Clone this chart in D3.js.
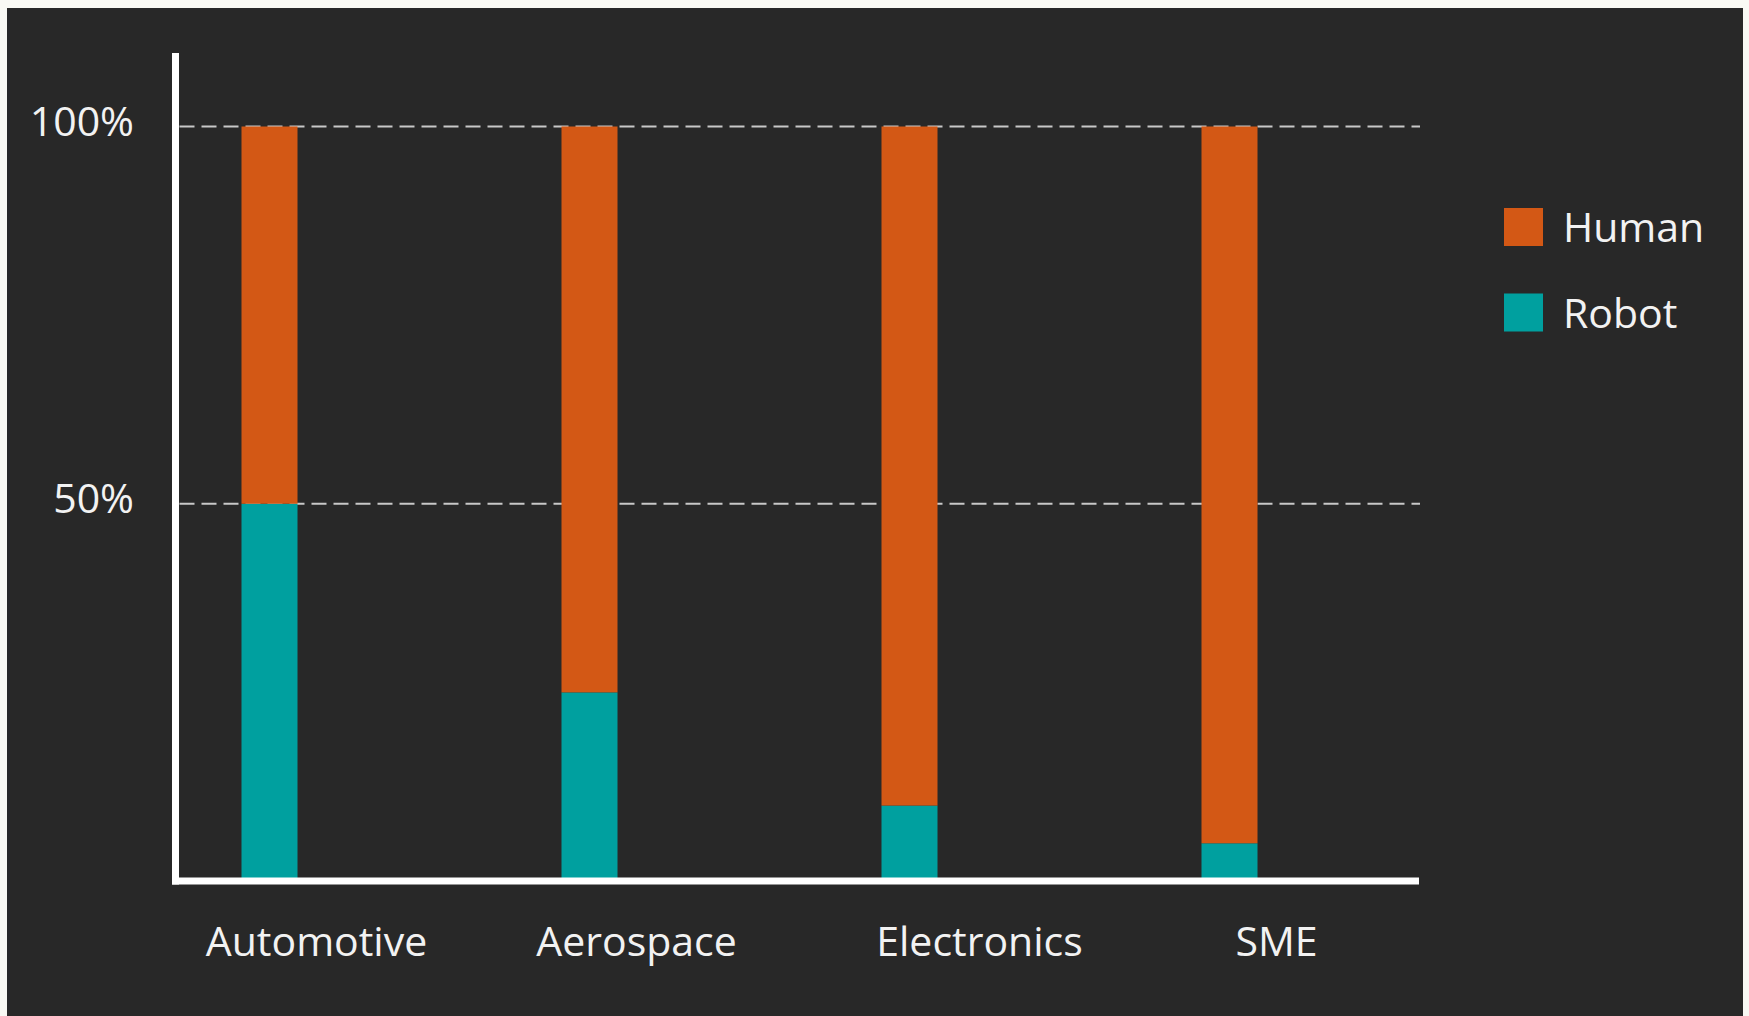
<!DOCTYPE html>
<html>
<head>
<meta charset="utf-8">
<script src="https://cdn.jsdelivr.net/npm/d3@7"></script>
<style>
  html, body { margin: 0; padding: 0; background: #f9f9f4; }
  svg { display: block; }
  text { font-family: "Open Sans", "Noto Sans", sans-serif; fill: #f2f2f2; }
</style>
</head>
<body>
<div class="chart"></div>
<script>
// data (percent of workforce)
const categories = ['Automotive', 'Aerospace', 'Electronics', 'SME'];
const robotShare = [50, 25, 10, 5];
const humanShare = [50, 75, 90, 95];
const seriesNames = ['Human', 'Robot'];
const yTicks = [50, 100];

const width = 1749;
const height = 1016;

const colors = { Human: '#d35815', Robot: '#00a09f' };

// the original labels are placed by hand, a bit right of each bar
const labelShift = { Automotive: 47, Aerospace: 47, Electronics: 70, SME: 47 };

const svg = d3.select('.chart').append('svg')
    .attr('width', width)
    .attr('height', height);

// outer page + dark panel
svg.append('rect').attr('width', width).attr('height', height).attr('fill', '#f9f9f4');
svg.append('rect')
    .attr('x', 7).attr('y', 8)
    .attr('width', 1736).attr('height', height - 8)
    .attr('fill', '#282828');

const x = d3.scaleBand()
    .domain(categories)
    .range([109.5, 1389.5])
    .paddingInner(0.825)
    .paddingOuter(0.4125);

const y = d3.scaleLinear()
    .domain([0, 100])
    .range([881, 126.5]);

const axisX = 175.5;
const axisRight = 1420;

// dashed gridlines
svg.append('g')
    .selectAll('line')
    .data(yTicks)
    .join('line')
    .attr('x1', axisX + 4)
    .attr('x2', axisRight)
    .attr('y1', d => y(d))
    .attr('y2', d => y(d))
    .attr('stroke', '#c8c8c8')
    .attr('stroke-width', 2.2)
    .attr('stroke-dasharray', '15 7');

// stacked bars
const rows = categories.map((c, i) => ({ category: c, Robot: robotShare[i], Human: humanShare[i] }));
const stacked = d3.stack().keys(['Robot', 'Human'])(rows);

svg.append('g')
    .selectAll('g')
    .data(stacked)
    .join('g')
    .attr('fill', d => colors[d.key])
    .selectAll('rect')
    .data(d => d)
    .join('rect')
    .attr('x', d => x(d.data.category))
    .attr('width', x.bandwidth())
    .attr('y', d => y(d[1]))
    .attr('height', d => y(d[0]) - y(d[1]));

// y tick labels
const yAxis = svg.append('g')
    .attr('transform', 'translate(134,0)')
    .call(d3.axisLeft(y).tickValues(yTicks).tickSize(0).tickPadding(0).tickFormat(d => d + '%'));
yAxis.select('.domain').remove();
yAxis.selectAll('text')
    .attr('font-family', '"Open Sans", "Noto Sans", sans-serif')
    .attr('font-size', 41)
    .attr('fill', '#f2f2f2')
    .attr('dy', 9)
    .attr('text-anchor', 'end');

// axis lines
svg.append('line')
    .attr('x1', axisX).attr('x2', axisX)
    .attr('y1', 53).attr('y2', 884.5)
    .attr('stroke', '#ffffff').attr('stroke-width', 7);
svg.append('line')
    .attr('x1', axisX - 3.5).attr('x2', axisRight - 1)
    .attr('y1', 881).attr('y2', 881)
    .attr('stroke', '#ffffff').attr('stroke-width', 7);

// category labels
svg.append('g')
    .selectAll('text')
    .data(categories)
    .join('text')
    .attr('x', d => x(d) + x.bandwidth() / 2 + labelShift[d])
    .attr('y', 956)
    .attr('text-anchor', 'middle')
    .attr('font-size', 41)
    .text(d => d);

// legend
const legend = svg.append('g')
    .selectAll('g')
    .data(seriesNames)
    .join('g')
    .attr('transform', (d, i) => `translate(1504, ${208 + i * 85.5})`);

legend.append('rect')
    .attr('width', 39)
    .attr('height', 38)
    .attr('fill', d => colors[d]);

legend.append('text')
    .attr('x', 59)
    .attr('y', 34)
    .attr('font-size', 41)
    .text(d => d);
</script>
</body>
</html>
